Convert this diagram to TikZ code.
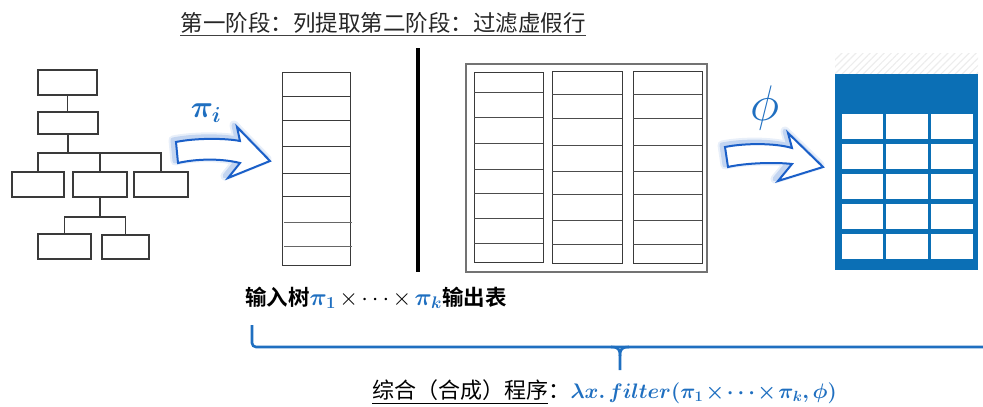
\RequirePackage{fix-cm}
\documentclass[tikz,border=0pt]{standalone}
\usepackage{amsmath,bm}
\usepackage{fontspec}
\newfontfamily\cjk{Noto Sans CJK SC}[BoldFont={Noto Sans CJK SC Bold}]
\usetikzlibrary{patterns.meta}
\definecolor{myblue}{HTML}{1F6FC0}
\definecolor{tblblue}{HTML}{0B6FB5}
\definecolor{arrblue}{HTML}{1A5FC8}
\definecolor{linegray}{HTML}{3A3A3A}
\def\arrowA{(176,142) .. controls (195,138) and (225,138) .. (240,141) -- (237,127) -- (270,161) -- (228,178) -- (240,163) .. controls (220,158) and (195,159) .. (178,163) -- cycle}
\def\arrowB{(725,147) .. controls (745,143) and (775,143) .. (792,148) -- (788,133) -- (823,167) -- (778,181) -- (792,164) .. controls (775,162) and (745,163) .. (728,167) -- cycle}
\begin{document}
\begin{tikzpicture}[x=1pt,y=-1pt,
  tbox/.style={draw=linegray,line width=1.1pt,inner sep=0pt,outer sep=0pt},
  conn/.style={draw=linegray,line width=1.1pt},
  grid/.style={draw=linegray,line width=1pt},
  hatch/.style={pattern={Lines[angle=45,distance=5pt,line width=1.2pt]},pattern color=gray!14},
  glow/.style={draw=arrblue,line join=round},
  barrow/.style={draw=arrblue,line width=2pt,line join=miter,fill=white}]
\useasboundingbox (0,0) rectangle (983,407);
% ---------- title ----------
\node[inner sep=0pt,font=\cjk\fontsize{22.5}{27}\selectfont,text=black!85] (title) at (383,22.5) {第一阶段：列提取第二阶段：过滤虚假行};
\draw[black!75,line width=1pt] ([yshift=-2pt]title.south west) -- ([yshift=-2pt]title.south east);
% ---------- tree ----------
\node[tbox,minimum width=59pt,minimum height=25pt] (b1) at (67.5,82.5) {};
\node[tbox,minimum width=60pt,minimum height=22pt] (b2) at (68,123) {};
\node[tbox,minimum width=52pt,minimum height=25pt] (b3) at (38,184.5) {};
\node[tbox,minimum width=54pt,minimum height=25pt] (b4) at (100,184.5) {};
\node[tbox,minimum width=54pt,minimum height=25pt] (b5) at (161,184.5) {};
\node[tbox,minimum width=53pt,minimum height=25pt] (b6) at (64.5,246.5) {};
\node[tbox,minimum width=47pt,minimum height=24pt] (b7) at (125.5,247) {};
\coordinate (bus1) at (0,153);
\coordinate (bus2) at (0,217);
\draw[conn] (b1.south) -- (b1.south |- b2.north);
\draw[conn] (b2.south) -- (b2.south |- bus1);
\draw[conn] (b3.north) -- (b3.north |- bus1) -| (b5.north);
\draw[conn] (b4.north) -- (b4.north |- bus1);
\draw[conn] (b4.south) -- (b4.south |- bus2);
\draw[conn] (b6.north) -- (b6.north |- bus2) -| (b7.north);
% ---------- arrow pi_i ----------
\begin{scope}[shift={(-3,-2)}]
  \draw[glow,opacity=0.10,line width=9pt] \arrowA;
  \draw[glow,opacity=0.18,line width=5pt] \arrowA;
\end{scope}
\draw[barrow] \arrowA;
\node[inner sep=0pt,text=myblue,font=\fontsize{31}{31}\selectfont] (pil) at (206,113) {$\bm{\pi}_{\bm{i}}$};
% ---------- single column ----------
\draw[grid] (282,72) rectangle (350,265);
\foreach \y in {96,120,146,173,196} \draw[grid] (282,\y) -- (350,\y);
\foreach \y in {222,246} \draw[grid,black!60] (284,\y) -- (352,\y);
% ---------- separator ----------
\draw[black,line width=4pt] (418,48) -- (418,272);
% ---------- middle table ----------
\draw[black!55,line width=1.1pt] (466,64) rectangle (707,272);
\draw[grid] (474,72) rectangle (543,262);
\foreach \y in {92,117,143,169,193,218,243} \draw[grid,black!70] (474,\y) -- (543,\y);
\draw[grid] (552,71) rectangle (622,263);
\foreach \y in {94,118,145,171,194,220,244} \draw[grid,black!70] (552,\y) -- (622,\y);
\draw[grid] (633,71) rectangle (702,263);
\foreach \y in {94,118,145,171,194,220,244} \draw[grid,black!70] (633,\y) -- (702,\y);
% ---------- arrow phi ----------
\begin{scope}[shift={(-3,-2)}]
  \draw[glow,opacity=0.10,line width=9pt] \arrowB;
  \draw[glow,opacity=0.18,line width=5pt] \arrowB;
\end{scope}
\draw[barrow] \arrowB;
\node[inner sep=0pt,text=myblue,font=\fontsize{50}{50}\selectfont] (phil) at (765,108) {$\phi$};
% ---------- output table ----------
\fill[hatch] (835,53) rectangle (978,74);
\fill[tblblue] (835,74) rectangle (978,270);
\foreach \xa/\xb in {842/883,886/928,931/973}
  \foreach \ya/\yb in {114/139,144/169,174/199,204/229,234/259} {
    \fill[white] (\xa,\ya) rectangle (\xb,\yb);
  }
% ---------- lower labels ----------
\node[anchor=base west,inner sep=0pt,font=\cjk\bfseries\fontsize{21.5}{26}\selectfont] (io) at (245,305)
  {输入树{\fontsize{24}{24}\selectfont\medmuskip=2.5mu $\textcolor{myblue}{\bm{\pi_1}}\times\cdots\times\textcolor{myblue}{\bm{\pi_k}}$}输出表};
% ---------- brace ----------
\draw[myblue,line width=2.6pt,rounded corners=4pt] (252,325) |- (986,347);
\draw[myblue,line width=2.6pt] (611,347) .. controls (618,347) and (620,349) .. (620,356) -- (620,370);
\draw[myblue,line width=2.6pt] (629,347) .. controls (622,347) and (620,349) .. (620,356);
% ---------- program ----------
\node[anchor=base west,inner sep=0pt,font=\cjk\fontsize{22}{26}\selectfont] (prog) at (372,398) {\underline{综合（合成）程序}：};
\node[anchor=base west,inner sep=0pt,text=myblue,font=\fontsize{21}{25}\selectfont] (formula) at (prog.base east)
  {\medmuskip=2mu $\bm{\lambda x.\,filter(\pi_1\times\cdots\times\pi_k,\phi)}$};
\end{tikzpicture}
\end{document}
